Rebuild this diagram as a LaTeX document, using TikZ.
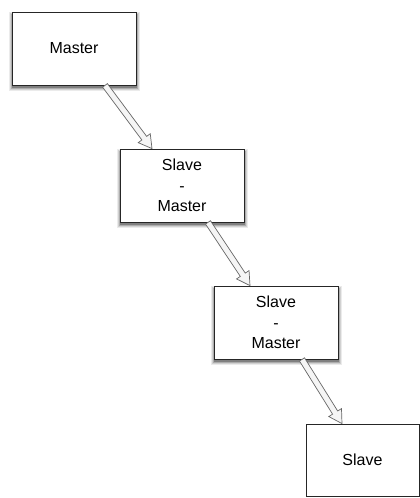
\documentclass[tikz,border=0pt]{standalone}
\usepackage{fontspec}
\setmainfont{Liberation Sans}
\usetikzlibrary{calc}
\pgfdeclarelayer{background}
\pgfsetlayers{background,main}
\tikzset{
  box/.style={draw=black!85, line width=0.8pt, fill=white, minimum width=124pt, minimum height=73pt,
    inner sep=0pt, align=center, font=\fontsize{16}{20.5}\selectfont},
  lastbox/.style={box, minimum width=113pt, minimum height=72pt},
  fatarrow/.style={draw=black!60, line width=0.7pt, fill=black!4, line join=miter},
}
\newcommand{\fatarr}[2]{%
  \coordinate (H) at ($(#2)!13pt!(#1)$);
  \draw[fatarrow] ($(#1)!3pt!90:(#2)$) -- ($(H)!3pt!-90:(#1)$) -- ($(H)!7.5pt!-90:(#1)$) -- (#2)
     -- ($(H)!7.5pt!90:(#1)$) -- ($(H)!3pt!90:(#1)$) -- ($(#1)!3pt!-90:(#2)$) -- cycle;
}
\newcommand{\softshadow}[1]{%
  \fill[black!8]  ($(#1.north west)+(-2.5,0)$) rectangle ($(#1.south east)+(3.5,6)$);
  \fill[black!18] ($(#1.north west)+(-1.5,1)$) rectangle ($(#1.south east)+(2.5,5)$);
  \fill[black!32] ($(#1.north west)+(-0.5,2)$) rectangle ($(#1.south east)+(1.5,4)$);
  \fill[black!50] ($(#1.north west)+(0.5,3)$) rectangle ($(#1.south east)+(0.5,3)$);
}
\begin{document}
\begin{tikzpicture}[x=1pt,y=-1pt]
\useasboundingbox (0,0) rectangle (420,498);
\node[box] (m1) at (74,48.5) {Master};
\node[box] (m2) at (182,185.5) {Slave\\-\\Master};
\node[box] (m3) at (276,322.5) {Slave\\-\\Master};
\node[lastbox] (m4) at (362.5,460) {Slave};
\begin{pgfonlayer}{background}
\softshadow{m1}
\softshadow{m2}
\softshadow{m3}
\end{pgfonlayer}
\coordinate (a1s) at ($(m1.south)+(31,0)$);
\coordinate (a1e) at ($(m2.north)+(-30,0)$);
\coordinate (a2s) at ($(m2.south)+(26,0)$);
\coordinate (a2e) at ($(m3.north)+(-26,0)$);
\coordinate (a3s) at ($(m3.south)+(26,0)$);
\coordinate (a3e) at ($(m4.north)+(-20.5,0)$);
\fatarr{a1s}{a1e}
\fatarr{a2s}{a2e}
\fatarr{a3s}{a3e}
\end{tikzpicture}
\end{document}
